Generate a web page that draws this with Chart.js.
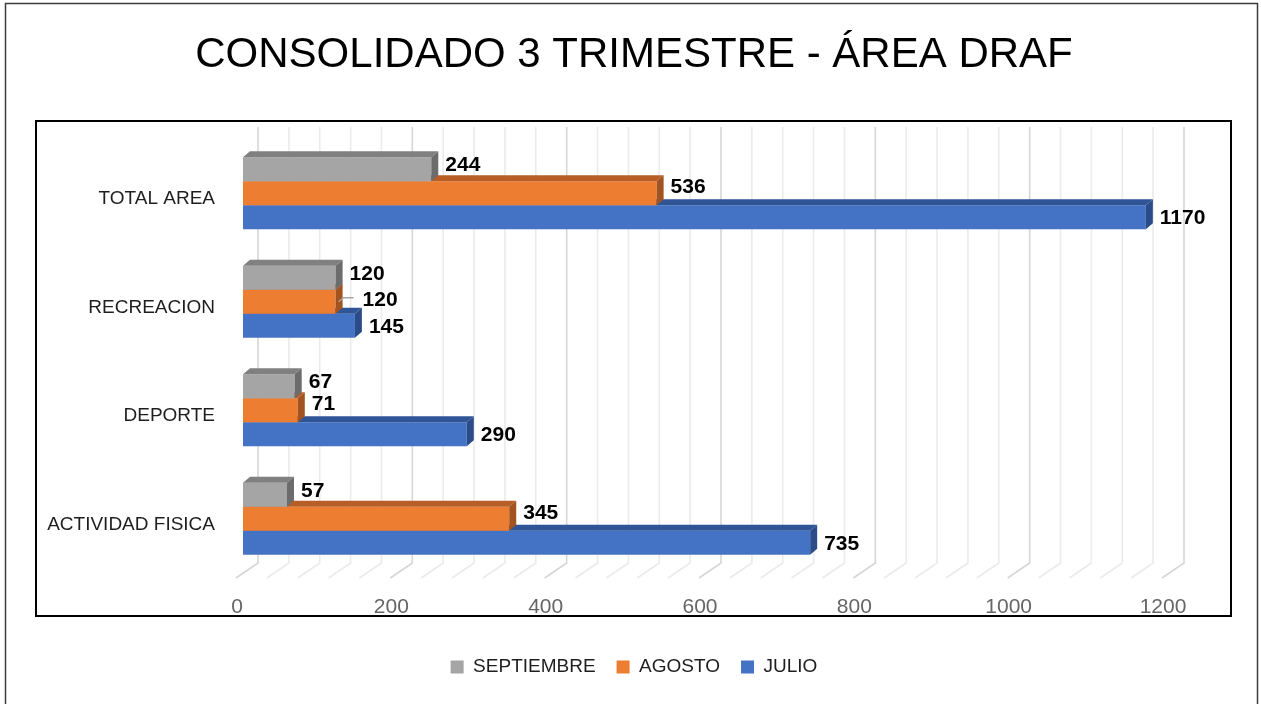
<!DOCTYPE html>
<html><head><meta charset="utf-8">
<script src="https://cdn.jsdelivr.net/npm/chart.js@4.4.0/dist/chart.umd.min.js"></script>
<style>html,body{margin:0;padding:0;background:#fff;overflow:hidden}</style>
</head><body>
<canvas id="c" width="1261" height="704"></canvas>
<script>
// ---- data ----
const categories = ['TOTAL AREA', 'RECREACION', 'DEPORTE', 'ACTIVIDAD FISICA'];
const seriesNames = ['SEPTIEMBRE', 'AGOSTO', 'JULIO'];
const septiembre = [244, 120, 67, 57];
const agosto = [536, 120, 71, 345];
const julio = [1170, 145, 290, 735];
const xMin = 0, xMax = 1200, xMajorStep = 200, xMinorStep = 40;
const titleText = 'CONSOLIDADO 3 TRIMESTRE - ÁREA DRAF';

// ---- styles ----
const FONT = "'Liberation Sans', Arial, sans-serif";
const seriesStyles = [
  { front: '#A5A5A5', top: '#808080', side: '#6C6C6C', labelDy: -4 },
  { front: '#ED7D31', top: '#B65E25', side: '#A2531F', labelDy: -6 },
  { front: '#4472C4', top: '#2F5597', side: '#2B4C89', labelDy: 1 }
];
const seriesValues = [septiembre, agosto, julio];
const DEPTH_X = 7, DEPTH_Y = 6;

Chart.defaults.font.family = FONT;

const datasets = seriesNames.map((name, i) => ({
  label: name,
  data: seriesValues[i],
  backgroundColor: seriesStyles[i].front,
  borderWidth: 0,
  barPercentage: 1,
  categoryPercentage: 0.6626,
  yAxisID: 'y',
  topColor: seriesStyles[i].top,
  sideColor: seriesStyles[i].side,
  labelDy: seriesStyles[i].labelDy
}));

const framePlugin = {
  id: 'frame',
  beforeDraw(chart) {
    const ctx = chart.ctx;
    ctx.save();
    ctx.fillStyle = '#fff';
    ctx.fillRect(0, 0, chart.width, chart.height);
    ctx.strokeStyle = '#3c3c3c';
    ctx.lineWidth = 1.5;
    ctx.strokeRect(5.5, 3.5, 1252, 730);
    ctx.strokeStyle = '#000';
    ctx.lineWidth = 2;
    ctx.strokeRect(36, 121, 1195, 495);
    ctx.restore();
  }
};

const gridPlugin = {
  id: 'grid3d',
  beforeDatasetsDraw(chart) {
    const ctx = chart.ctx, xs = chart.scales.x, ca = chart.chartArea;
    const top = ca.top - 12, backBottom = ca.bottom - 10, frontBottom = ca.bottom + 5;
    ctx.save();
    ctx.lineWidth = 1.6;
    xs.ticks.forEach(t => {
      const v = t.value;
      const xb = xs.getPixelForValue(v) + 15;
      ctx.strokeStyle = (v % xMajorStep === 0) ? '#d6d6d6' : '#ebebeb';
      ctx.beginPath();
      ctx.moveTo(xb, top);
      ctx.lineTo(xb, backBottom);
      ctx.lineTo(xb - 22, frontBottom);
      ctx.stroke();
    });
    ctx.restore();
  }
};

const bar3dPlugin = {
  id: 'bar3d',
  afterDatasetDraw(chart, args) {
    const ctx = chart.ctx;
    const ds = chart.data.datasets[args.index];
    if (args.meta.yAxisID !== 'y') return;
    ctx.save();
    args.meta.data.forEach(bar => {
      const p = bar.getProps(['x', 'y', 'base', 'height'], true);
      const yT = p.y - p.height / 2, yB = p.y + p.height / 2;
      ctx.fillStyle = ds.topColor;
      ctx.beginPath();
      ctx.moveTo(p.base, yT);
      ctx.lineTo(p.x, yT);
      ctx.lineTo(p.x + DEPTH_X, yT - DEPTH_Y);
      ctx.lineTo(p.base + DEPTH_X, yT - DEPTH_Y);
      ctx.closePath();
      ctx.fill();
      ctx.fillStyle = ds.sideColor;
      ctx.beginPath();
      ctx.moveTo(p.x, yT);
      ctx.lineTo(p.x + DEPTH_X, yT - DEPTH_Y);
      ctx.lineTo(p.x + DEPTH_X, yB - DEPTH_Y);
      ctx.lineTo(p.x, yB);
      ctx.closePath();
      ctx.fill();
    });
    ctx.restore();
  }
};

const valueLabelPlugin = {
  id: 'valueLabels',
  afterDatasetsDraw(chart) {
    const ctx = chart.ctx;
    ctx.save();
    ctx.font = 'bold 21px ' + FONT;
    ctx.fillStyle = '#000';
    ctx.textBaseline = 'middle';
    ctx.textAlign = 'left';
    chart.data.datasets.forEach((ds, di) => {
      const meta = chart.getDatasetMeta(di);
      meta.data.forEach((bar, j) => {
        const p = bar.getProps(['x', 'y'], true);
        let x = p.x + 14, y = p.y + ds.labelDy;
        const prev = di > 0 ? chart.data.datasets[di - 1].data[j] : null;
        if (prev !== null && prev === ds.data[j]) {
          // same value as bar above: nudge right with a leader line
          ctx.save();
          ctx.strokeStyle = '#a6a6a6';
          ctx.lineWidth = 1.5;
          ctx.beginPath();
          ctx.moveTo(p.x + 3, p.y);
          ctx.lineTo(p.x + 8, p.y - 4);
          ctx.lineTo(p.x + 18, p.y - 4);
          ctx.stroke();
          ctx.restore();
          x = p.x + 27; y = p.y - 2;
        }
        ctx.fillText(String(ds.data[j]), x, y);
      });
    });
    ctx.restore();
  }
};

new Chart(document.getElementById('c'), {
  type: 'bar',
  data: { labels: categories, datasets },
  options: {
    indexAxis: 'y',
    responsive: false,
    devicePixelRatio: 1,
    animation: false,
    events: [],
    layout: { padding: { left: 7, right: 0, top: 0, bottom: 17.5 } },
    scales: {
      x: {
        type: 'linear', position: 'bottom', min: xMin, max: xMax,
        grid: { display: false, drawTicks: false },
        border: { display: false },
        ticks: {
          stepSize: xMinorStep, autoSkip: false, maxRotation: 0,
          callback: v => (v % xMajorStep === 0 ? String(v) : ''),
          font: { size: 21 }, color: '#666666', padding: 21.4, labelOffset: -6
        },
        afterFit: s => { s.height = 63.5; }
      },
      y: {
        type: 'category', position: 'left',
        grid: { display: false, drawTicks: false },
        border: { display: false },
        ticks: { font: { size: 19 }, color: '#1e1e1e', padding: 28, labelOffset: 6 },
        afterFit: s => { s.width = 236; }
      },
      y2: {
        type: 'category', position: 'right', display: true,
        grid: { display: false, drawTicks: false },
        border: { display: false },
        ticks: { display: false },
        afterFit: s => { s.width = 92; }
      }
    },
    plugins: {
      title: {
        display: true, text: titleText, color: '#000',
        font: { size: 42, weight: 'normal' },
        padding: { top: 30, bottom: 58.6 }
      },
      legend: {
        display: true, position: 'bottom',
        labels: { boxWidth: 13, boxHeight: 13, padding: 21, font: { size: 19 }, color: '#1e1e1e' }
      },
      tooltip: { enabled: false }
    }
  },
  plugins: [framePlugin, gridPlugin, bar3dPlugin, valueLabelPlugin]
});
</script>
</body></html>
